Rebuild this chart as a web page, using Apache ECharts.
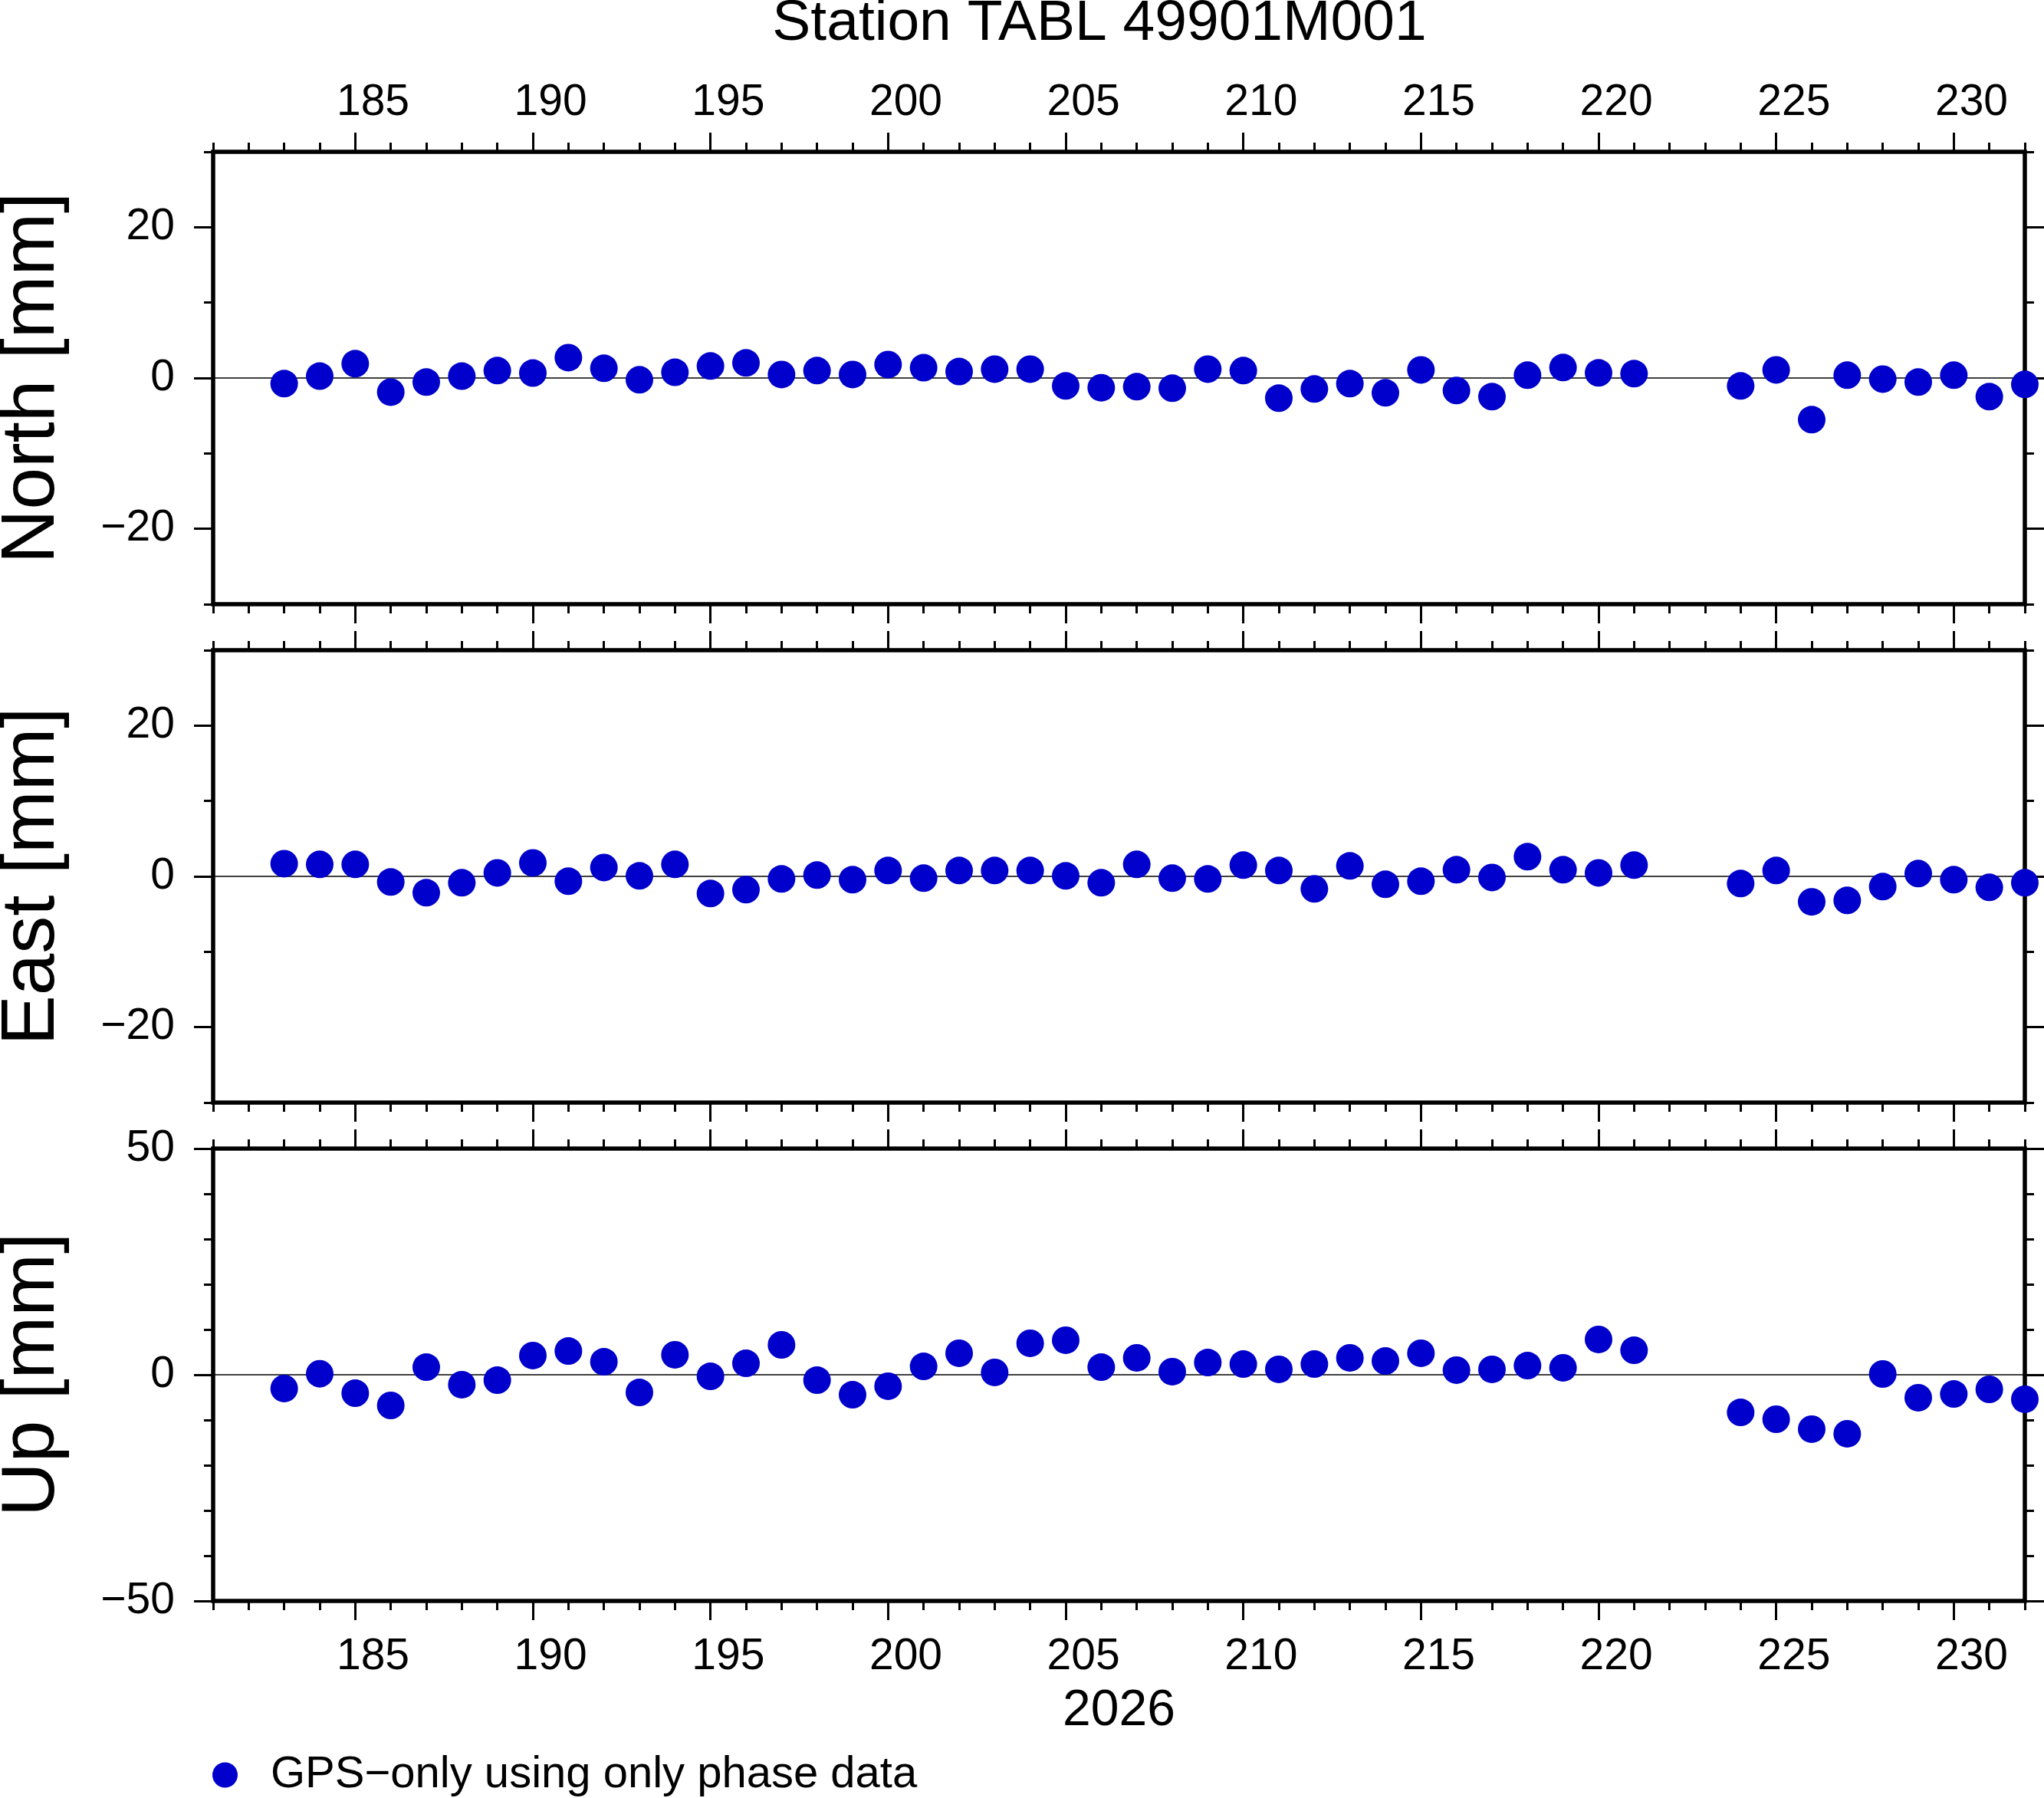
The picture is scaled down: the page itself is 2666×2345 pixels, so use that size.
<!DOCTYPE html>
<html>
<head>
<meta charset="utf-8">
<title>Station TABL 49901M001</title>
<script src="https://cdn.jsdelivr.net/npm/echarts@6/dist/echarts.min.js"></script>
<style>
  html, body { margin: 0; padding: 0; background: #fff; }
  #chart { width: 2666px; height: 2345px; }
</style>
</head>
<body>
<div id="chart"></div>
<script>
// day of year 2026
var days = [183, 184, 185, 186, 187, 188, 189, 190, 191, 192, 193, 194, 195, 196, 197, 198,
  199, 200, 201, 202, 203, 204, 205, 206, 207, 208, 209, 210, 211, 212, 213, 214, 215, 216,
  217, 218, 219, 220, 221, 224, 225, 226, 227, 228, 229, 230, 231, 232];

// residuals in mm
var north = [-0.74, 0.25, 1.9, -1.88, -0.54, 0.25, 0.98, 0.66, 2.7, 1.29, -0.24, 0.76, 1.59, 2.0,
  0.46, 0.98, 0.46, 1.79, 1.37, 0.86, 1.17, 1.17, -1.05, -1.29, -1.15, -1.35, 1.18, 0.98, -2.67,
  -1.46, -0.74, -1.96, 1.08, -1.66, -2.47, 0.37, 1.39, 0.68, 0.58, -1.05, 1.08, -5.52, 0.37,
  -0.14, -0.54, 0.37, -2.47, -0.85];
var east = [1.69, 1.59, 1.59, -0.74, -2.17, -0.85, 0.47, 1.79, -0.64, 1.18, 0.07, 1.59, -2.27,
  -1.76, -0.34, 0.17, -0.44, 0.78, -0.24, 0.78, 0.78, 0.78, 0.07, -0.85, 1.59, -0.24, -0.34,
  1.49, 0.78, -1.66, 1.39, -1.05, -0.64, 0.88, -0.14, 2.61, 0.88, 0.47, 1.49, -0.95, 0.78,
  -3.38, -3.18, -1.35, 0.37, -0.44, -1.46, -0.85];
var up = [-3.05, 0.23, -4.07, -6.78, 1.69, -2.2, -1.19, 4.24, 5.25, 2.88, -3.9, 4.41, -0.34, 2.54,
  6.61, -1.19, -4.41, -2.54, 1.86, 4.75, 0.51, 6.95, 7.63, 1.69, 3.73, 0.68, 2.71, 2.37, 1.19,
  2.37, 3.73, 3.05, 4.75, 1.02, 1.19, 2.03, 1.53, 7.8, 5.42, -8.31, -9.83, -12.03, -13.05, 0.17,
  -5.08, -4.24, -3.22, -5.42];

// ticks
var dayMajor = [185, 190, 195, 200, 205, 210, 215, 220, 225, 230];
var dayLabelAt = [185.5, 190.5, 195.5, 200.5, 205.5, 210.5, 215.5, 220.5, 225.5, 230.5];
var neMajor = [-20, 0, 20];
var upMajor = [-50, 0, 50];

var panels = [
  { name: 'North [mm]', values: north, min: -30, max: 30, major: neMajor },
  { name: 'East [mm]', values: east, min: -30, max: 30, major: neMajor },
  { name: 'Up [mm]', values: up, min: -50, max: 50, major: upMajor }
];

var FONT = 'Liberation Sans, Arial, Helvetica, sans-serif';
var SERIES_NAME = 'GPS\u2212only using only phase data';
var gridTops = [198, 848, 1498];
var tickStyle = { color: '#000', width: 3 };

function minusFmt(v) {
  return v < 0 ? '\u2212' + Math.abs(v) : String(v);
}

var grids = [], xAxes = [], yAxes = [], series = [];

panels.forEach(function (p, g) {
  grids.push({ left: 278, width: 2363, top: gridTops[g], height: 590, show: true,
    outerBoundsMode: 'none', containLabel: false,
    borderColor: '#000', borderWidth: 5.5, backgroundColor: 'transparent', z: 3 });

  ['bottom', 'top'].forEach(function (pos) {
    var withLabels = (pos === 'top' && g === 0) || (pos === 'bottom' && g === 2);
    // minor day ticks
    xAxes.push({
      gridIndex: g, type: 'value', position: pos, min: 181, max: 232, interval: 1,
      axisLine: { show: false, onZero: false }, splitLine: { show: false },
      axisTick: { show: true, inside: false, length: 12, lineStyle: tickStyle },
      axisLabel: { show: false }
    });
    // major ticks every 5 days, labels centred on the day
    var major = {
      gridIndex: g, type: 'value', position: pos, min: 181, max: 232, interval: 1,
      axisLine: { show: false, onZero: false }, splitLine: { show: false },
      axisTick: { show: true, inside: false, length: 25, lineStyle: tickStyle, customValues: dayMajor },
      axisLabel: {
        show: withLabels, customValues: dayLabelAt, margin: pos === 'top' ? 35 : 45,
        fontSize: 57, color: '#000', fontFamily: FONT,
        formatter: function (v) { return String(Math.floor(v)); }
      }
    };
    if (pos === 'bottom' && g === 2) {
      major.name = '2026';
      major.nameLocation = 'middle';
      major.nameGap = 111;
      major.nameTextStyle = { fontSize: 66, color: '#000', fontFamily: FONT };
    }
    xAxes.push(major);
  });

  ['left', 'right'].forEach(function (pos) {
    yAxes.push({
      gridIndex: g, type: 'value', position: pos, min: p.min, max: p.max, interval: 10,
      axisLine: { show: false, onZero: false }, splitLine: { show: false },
      axisTick: { show: true, inside: false, length: 12, lineStyle: tickStyle },
      axisLabel: { show: false }
    });
    var major = {
      gridIndex: g, type: 'value', position: pos, min: p.min, max: p.max, interval: 10,
      axisLine: { show: false, onZero: false }, splitLine: { show: false },
      axisTick: { show: true, inside: false, length: 25, lineStyle: tickStyle, customValues: p.major },
      axisLabel: {
        show: pos === 'left', customValues: p.major, margin: 50,
        fontSize: 57, color: '#000', fontFamily: FONT, formatter: minusFmt
      }
    };
    if (pos === 'left') {
      major.name = p.name;
      major.nameLocation = 'middle';
      major.nameRotate = 90;
      major.nameGap = 186;
      major.nameTextStyle = { fontSize: 98, color: '#000', fontFamily: FONT };
    }
    yAxes.push(major);
  });

  series.push({
    name: SERIES_NAME,
    type: 'scatter',
    xAxisIndex: g * 4,
    yAxisIndex: g * 4,
    symbol: 'circle',
    symbolSize: 36,
    clip: false,
    z: 4,
    itemStyle: { color: '#0000cc', opacity: 1 },
    data: days.map(function (d, i) { return [d, p.values[i]]; }),
    markLine: {
      silent: true, symbol: 'none', animation: false, z: 1,
      label: { show: false },
      lineStyle: { color: '#000', width: 1.5, type: 'solid', opacity: 1 },
      data: [{ yAxis: 0 }]
    }
  });
});

var chart = echarts.init(document.getElementById('chart'), null, { renderer: 'canvas' });
chart.setOption({
  animation: false,
  backgroundColor: '#fff',
  title: {
    text: 'Station TABL 49901M001', left: 1434, top: -6, textAlign: 'center', padding: 0,
    textStyle: { fontSize: 75, fontWeight: 'normal', color: '#000', fontFamily: FONT }
  },
  legend: {
    data: [SERIES_NAME],
    left: 277, top: 2286, padding: 0, icon: 'circle',
    itemWidth: 33, itemHeight: 33,
    itemStyle: { opacity: 1 },
    textStyle: { fontSize: 58, color: '#000', fontFamily: FONT, padding: [0, 0, 0, 38] }
  },
  grid: grids,
  xAxis: xAxes,
  yAxis: yAxes,
  series: series
});
</script>
</body>
</html>
